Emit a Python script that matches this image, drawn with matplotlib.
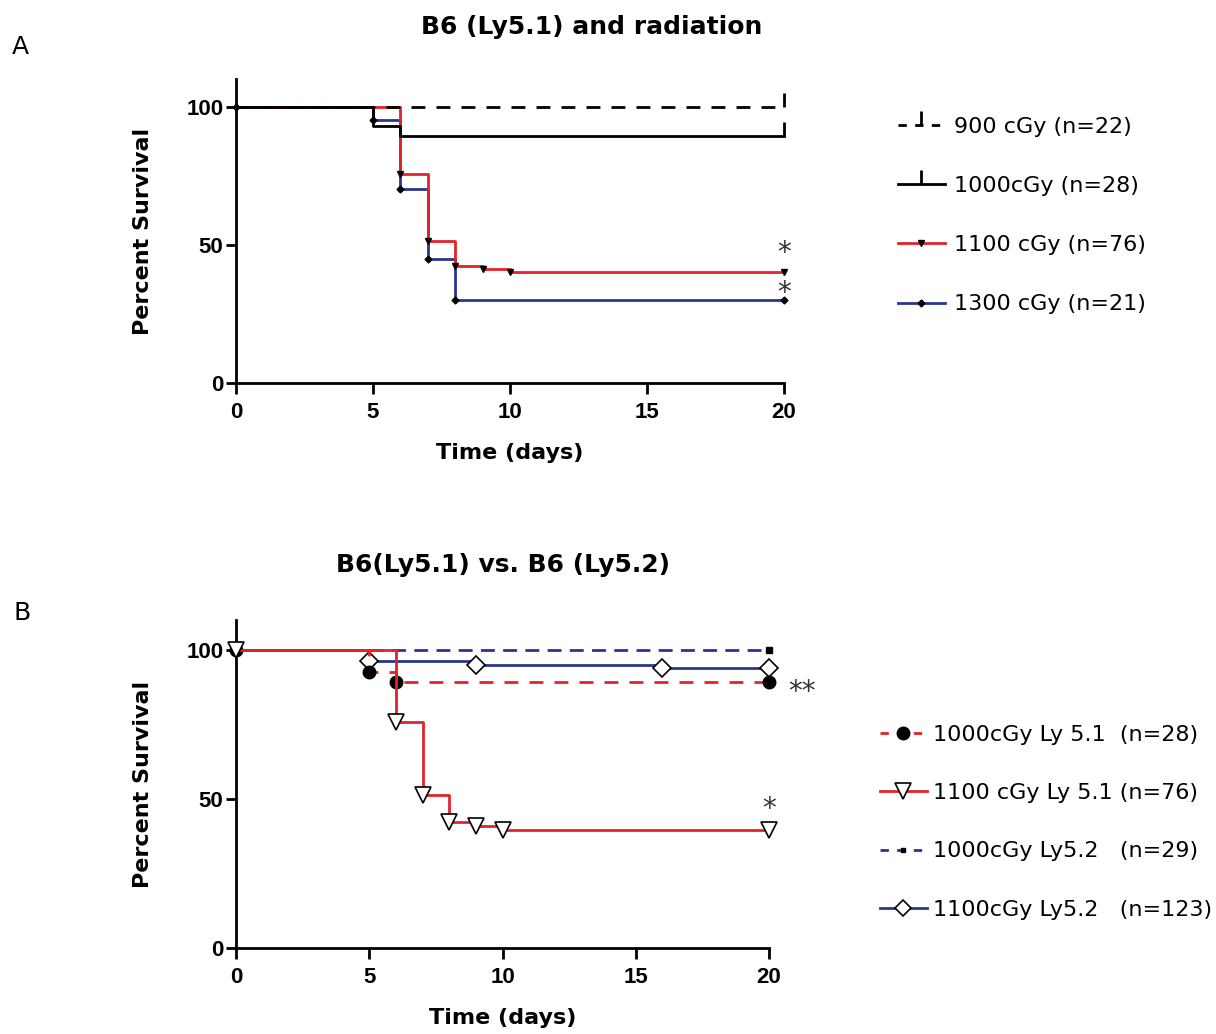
import matplotlib
matplotlib.use("Agg")
import matplotlib.pyplot as plt
from matplotlib.lines import Line2D

# ---- panel A data (Kaplan-Meier steps) ----
a_days_900 = [0, 20]
a_surv_900 = [100, 100]
a_days_1000 = [0, 5, 6, 20]
a_surv_1000 = [100, 92.9, 89.3, 89.3]
a_days_1100 = [0, 6, 7, 8, 9, 10, 20]
a_surv_1100 = [100, 75.7, 51.3, 42.5, 41.2, 40.0, 40.0]
a_days_1300 = [0, 5, 6, 7, 8, 20]
a_surv_1300 = [100, 95.2, 70.1, 44.8, 30.1, 30.1]
a_labels = ["900 cGy (n=22)", "1000cGy (n=28)", "1100 cGy (n=76)", "1300 cGy (n=21)"]

# ---- panel B data ----
b_days_1000_51 = [0, 5, 6, 20]
b_surv_1000_51 = [100, 92.7, 89.3, 89.3]
b_days_1100_51 = [0, 6, 7, 8, 9, 10, 20]
b_surv_1100_51 = [100, 75.7, 51.3, 42.1, 40.8, 39.5, 39.5]
b_days_1000_52 = [0, 20]
b_surv_1000_52 = [100, 100]
b_days_1100_52 = [0, 5, 9, 16, 20]
b_surv_1100_52 = [100, 96.4, 94.8, 93.9, 93.9]
b_labels = ["1000cGy Ly 5.1  (n=28)", "1100 cGy Ly 5.1 (n=76)",
            "1000cGy Ly5.2   (n=29)", "1100cGy Ly5.2   (n=123)"]

# significance marks: (day, percent, text)
a_stars = [(20, 47.2, "*"), (20, 32.5, "*")]
b_stars = [(20, 46.6, "*"), (21.25, 85.8, "**")]

RED = "#e3232b"
BLUE = "#2a3690"
TICKFONT = "Liberation Sans"

fig = plt.figure(figsize=(12.16, 10.34), dpi=100)
W, H = 1216, 1034


def px_axes(left, right, bottom, top):
    return fig.add_axes([left / W, 1 - bottom / H, (right - left) / W, (bottom - top) / H])


def style_axes(ax):
    ax.set_xlim(0, 20)
    ax.set_ylim(0, 110)
    ax.set_xticks([0, 5, 10, 15, 20])
    ax.set_yticks([0, 50, 100])
    for s in ["top", "right"]:
        ax.spines[s].set_visible(False)
    for s in ["left", "bottom"]:
        ax.spines[s].set_linewidth(2)
    ax.tick_params(axis="x", length=8, width=2, pad=6)
    ax.tick_params(axis="y", length=7, width=2, pad=2)
    for lab in ax.get_xticklabels() + ax.get_yticklabels():
        lab.set_fontfamily(TICKFONT)
        lab.set_fontweight("bold")
        lab.set_fontsize(16)
    ax.set_ylabel("Percent Survival", fontsize=16, fontweight="bold", labelpad=24)
    ax.set_xlabel("Time (days)", fontsize=16, fontweight="bold", labelpad=14)


def km(ax, x, y, color, z, ls="-", dashes=None, **mk):
    line, = ax.step(x, y, where="post", color=color, lw=2, ls=ls, zorder=z, clip_on=False)
    if dashes:
        line.set_dashes(dashes)
    ax.plot(x, y, ls="none", zorder=z + 0.5, clip_on=False, **mk)


# ================= panel A =================
axA = px_axes(236, 784, 383, 79)
km(axA, a_days_1300, a_surv_1300, BLUE, 2, marker="D", ms=3.5, mfc="black", mec="black")
km(axA, a_days_1100, a_surv_1100, RED, 3, marker="v", ms=5, mfc="black", mec="black",
   markevery=list(range(1, 7)))
km(axA, a_days_1000, a_surv_1000, "black", 4, marker=2, ms=10, mew=2, mec="black", markevery=[3])
km(axA, a_days_900, a_surv_900, "black", 5, dashes=(5, 4), marker=2, ms=10, mew=2, mec="black",
   markevery=[1])
style_axes(axA)
for x, y, t in a_stars:
    axA.text(x, y, t, ha="center", va="center", fontsize=20, color="#333333")

a_handles = [
    Line2D([], [], color="black", lw=2, dashes=(3, 3), marker=2, ms=10, mew=2),
    Line2D([], [], color="black", lw=2, marker=2, ms=10, mew=2),
    Line2D([], [], color=RED, lw=2, marker="v", ms=5, mfc="black", mec="black"),
    Line2D([], [], color=BLUE, lw=2, marker="D", ms=3.5, mfc="black", mec="black"),
]
fig.legend(a_handles, a_labels, loc="upper left", bbox_to_anchor=(898 / W, 1 - 117 / H),
           frameon=False, fontsize=16, handlelength=2.1, handletextpad=0.4,
           labelspacing=1.76, borderpad=0, borderaxespad=0, numpoints=1)

# ================= panel B =================
axB = px_axes(236, 769, 948, 620)
km(axB, b_days_1100_52, b_surv_1100_52, BLUE, 2, marker="D", ms=9, mfc="white", mec="black",
   mew=1.2, markevery=[1, 2, 3, 4])
km(axB, b_days_1000_52, b_surv_1000_52, BLUE, 3, dashes=(5, 3), marker="s", ms=4,
   mfc="black", mec="black", markevery=[1])
km(axB, b_days_1000_51, b_surv_1000_51, RED, 4, dashes=(5, 4), marker="o", ms=9,
   mfc="black", mec="black")
km(axB, b_days_1100_51, b_surv_1100_51, RED, 5, marker="v", ms=11, mfc="white", mec="black",
   mew=1.2)
style_axes(axB)
for x, y, t in b_stars:
    axB.text(x, y, t, ha="center", va="center", fontsize=20, color="#333333")

b_handles = [
    Line2D([], [], color=RED, lw=2, dashes=(3, 3), marker="o", ms=9, mfc="black", mec="black"),
    Line2D([], [], color=RED, lw=2, marker="v", ms=11, mfc="white", mec="black", mew=1.2),
    Line2D([], [], color=BLUE, lw=2, dashes=(3, 3), marker="s", ms=3, mfc="black", mec="black"),
    Line2D([], [], color=BLUE, lw=2, marker="D", ms=8, mfc="white", mec="black", mew=1.2),
]
fig.legend(b_handles, b_labels, loc="upper left", bbox_to_anchor=(880 / W, 1 - 725 / H),
           frameon=False, fontsize=16, handlelength=2.1, handletextpad=0.3,
           labelspacing=1.72, borderpad=0, borderaxespad=0, numpoints=1)

# titles and panel letters
fig.text(592 / W, 1 - 27 / H, "B6 (Ly5.1) and radiation", ha="center", va="center",
         fontsize=18, fontweight="bold")
fig.text(503 / W, 1 - 565 / H, "B6(Ly5.1) vs. B6 (Ly5.2)", ha="center", va="center",
         fontsize=18, fontweight="bold")
fig.text(20 / W, 1 - 47 / H, "A", ha="center", va="center", fontsize=18)
fig.text(22 / W, 1 - 613 / H, "B", ha="center", va="center", fontsize=18)

fig.savefig("out.png", dpi=100, facecolor="white")
